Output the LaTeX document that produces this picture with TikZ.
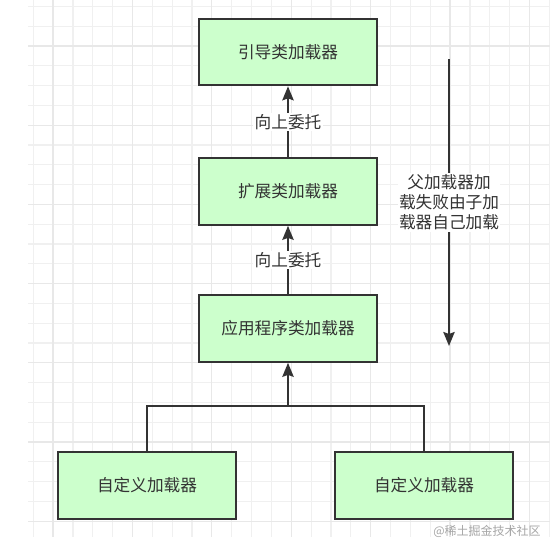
\documentclass[tikz,border=0pt]{standalone}
\usepackage{fontspec}
\setmainfont{Noto Sans CJK SC}
\usetikzlibrary{arrows.meta}
\definecolor{boxgreen}{HTML}{CCFFCC}
\definecolor{inkgray}{HTML}{333333}
\definecolor{gridminor}{HTML}{F0F0F0}
\definecolor{gridmajor}{HTML}{E8E8E8}

\begin{document}
\begin{tikzpicture}[x=0.75pt,y=-0.75pt,
  loaderbox/.style={draw=inkgray, line width=1.5pt, fill=boxgreen,
    minimum width=134pt, minimum height=50pt, inner sep=0pt,
    text=inkgray, font=\fontsize{12.5}{15}\selectfont},
  tagtext/.style={fill=white, inner sep=1pt, text=inkgray,
    font=\fontsize{12.5}{15}\selectfont},
  link/.style={draw=inkgray, line width=1.5pt},
  uparrow/.style={link, -{Stealth[length=10.5pt,width=8.5pt,inset=1.5pt]}}]
\useasboundingbox (0,0) rectangle (554,550);
\fill[white] (0,0) rectangle (554,550);

% background grid
\foreach \k in {0,...,26} {
  \pgfmathsetmacro{\gx}{33.2+19.85*\k}
  \draw[gridminor, line width=0.9pt] (\gx,0) -- (\gx,537);
}
\foreach \k in {0,...,26} {
  \pgfmathsetmacro{\gy}{6.4+19.8*\k}
  \draw[gridminor, line width=0.9pt] (28,\gy) -- (550,\gy);
}
\foreach \k in {0,...,6} {
  \pgfmathsetmacro{\gx}{53+79.4*\k}
  \pgfmathsetmacro{\gy}{46+79.2*\k}
  \draw[gridmajor, line width=1pt] (\gx,0) -- (\gx,537);
  \draw[gridmajor, line width=1pt] (28,\gy) -- (550,\gy);
}

% loaders
\node[loaderbox] (boot) at (288,52) {引导类加载器};
\node[loaderbox] (ext) at (288,191.5) {扩展类加载器};
\node[loaderbox] (app) at (288,328.5) {应用程序类加载器};
\node[loaderbox] (customL) at (147,485.5) {自定义加载器};
\node[loaderbox] (customR) at (424,485.5) {自定义加载器};

% delegation
\draw[uparrow] (ext) -- node[tagtext] {向上委托} (boot);
\draw[uparrow] (app) -- node[tagtext] {向上委托} (ext);

\coordinate (fork) at (288,406);
\draw[link] (customL.north) |- (fork) -| (customR.north);
\draw[uparrow] (fork) -- (app);

% loading direction
\coordinate (downTop) at (449,59);
\coordinate (downEnd) at (449,346);
\draw[uparrow] (downTop) -- node[tagtext, align=center] {父加载器加\\载失败由子加\\载器自己加载} (downEnd);

\node[text=black!35, font=\fontsize{9}{10}\selectfont] (mark) at (487,531) {@稀土掘金技术社区};
\end{tikzpicture}
\end{document}
